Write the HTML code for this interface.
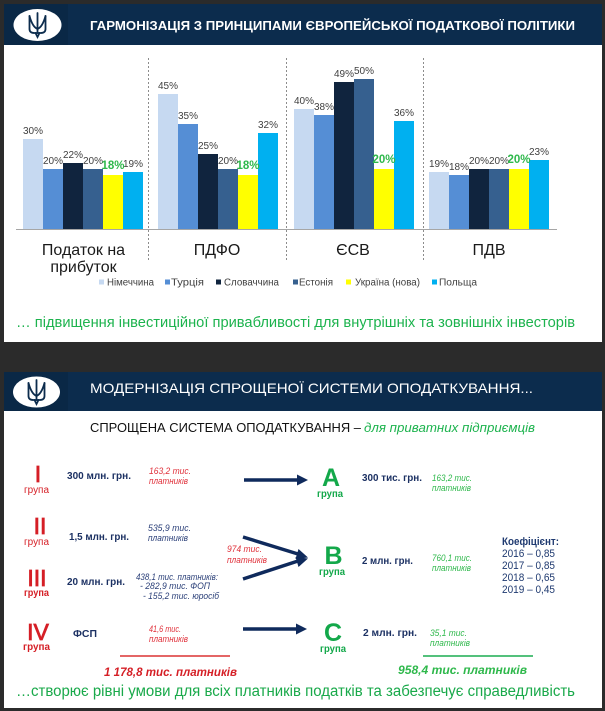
<!DOCTYPE html>
<html><head><meta charset="utf-8">
<style>
html,body{margin:0;padding:0;background:#2b2b2b;}
svg{display:block;}
text{font-family:"Liberation Sans", Arial, sans-serif;}
</style></head>
<body>
<svg width="605" height="711" viewBox="0 0 605 711" xmlns="http://www.w3.org/2000/svg">
<rect width="605" height="711" fill="#2b2b2b"/>

<!-- ============ SLIDE 1 ============ -->
<rect x="4" y="4" width="598" height="41" fill="#0c2c4d"/>
<rect x="4" y="4" width="64" height="41" fill="#0a2846"/>
<rect x="4" y="45" width="598" height="297" fill="#ffffff"/>
<ellipse cx="37.5" cy="25" rx="24" ry="16" fill="#ffffff"/>
<g transform="translate(37.5,25)" fill="none" stroke="#0c2c4d" stroke-width="1.8" stroke-linecap="round">
  <path d="M0,-12 L0,8"/>
  <path d="M-8,-9 L-8,4 Q-8,8 -3,8 L3,8 Q8,8 8,4 L8,-9"/>
  <path d="M-8,-9 Q-5,2 0,4 Q5,2 8,-9"/>
  <path d="M-2,8 L0,12 L2,8"/>
</g>
<text x="90" y="30" font-size="13" font-weight="bold" fill="#ffffff" textLength="485" lengthAdjust="spacingAndGlyphs">ГАРМОНІЗАЦІЯ З ПРИНЦИПАМИ ЄВРОПЕЙСЬКОЇ ПОДАТКОВОЇ ПОЛІТИКИ</text>

<!-- separators -->
<g stroke="#8c8c8c" stroke-width="1" stroke-dasharray="2,2">
  <line x1="148.5" y1="58" x2="148.5" y2="260"/>
  <line x1="286.5" y1="58" x2="286.5" y2="260"/>
  <line x1="423.5" y1="58" x2="423.5" y2="260"/>
</g>

<!-- bars G1 -->
<rect x="23" y="139" width="20" height="90" fill="#c6d9f1"/>
<rect x="43" y="169" width="20" height="60" fill="#558ed5"/>
<rect x="63" y="163" width="20" height="66" fill="#10243e"/>
<rect x="83" y="169" width="20" height="60" fill="#36608f"/>
<rect x="103" y="175" width="20" height="54" fill="#ffff00"/>
<rect x="123" y="172" width="20" height="57" fill="#00b0f0"/>
<!-- bars G2 -->
<rect x="158" y="94" width="20" height="135" fill="#c6d9f1"/>
<rect x="178" y="124" width="20" height="105" fill="#558ed5"/>
<rect x="198" y="154" width="20" height="75" fill="#10243e"/>
<rect x="218" y="169" width="20" height="60" fill="#36608f"/>
<rect x="238" y="175" width="20" height="54" fill="#ffff00"/>
<rect x="258" y="133" width="20" height="96" fill="#00b0f0"/>
<!-- bars G3 -->
<rect x="294" y="109" width="20" height="120" fill="#c6d9f1"/>
<rect x="314" y="115" width="20" height="114" fill="#558ed5"/>
<rect x="334" y="82" width="20" height="147" fill="#10243e"/>
<rect x="354" y="79" width="20" height="150" fill="#36608f"/>
<rect x="374" y="169" width="20" height="60" fill="#ffff00"/>
<rect x="394" y="121" width="20" height="108" fill="#00b0f0"/>
<!-- bars G4 -->
<rect x="429" y="172" width="20" height="57" fill="#c6d9f1"/>
<rect x="449" y="175" width="20" height="54" fill="#558ed5"/>
<rect x="469" y="169" width="20" height="60" fill="#10243e"/>
<rect x="489" y="169" width="20" height="60" fill="#36608f"/>
<rect x="509" y="169" width="20" height="60" fill="#ffff00"/>
<rect x="529" y="160" width="20" height="69" fill="#00b0f0"/>

<line x1="16" y1="229.5" x2="557" y2="229.5" stroke="#a6a6a6" stroke-width="1"/>

<!-- value labels -->
<g font-size="10" fill="#404040" text-anchor="middle">
  <text x="33" y="134">30%</text>
  <text x="53" y="164">20%</text>
  <text x="73" y="158">22%</text>
  <text x="93" y="164">20%</text>
  <text x="133" y="167">19%</text>
  <text x="168" y="89">45%</text>
  <text x="188" y="119">35%</text>
  <text x="208" y="149">25%</text>
  <text x="228" y="164">20%</text>
  <text x="268" y="128">32%</text>
  <text x="304" y="104">40%</text>
  <text x="324" y="110">38%</text>
  <text x="344" y="77">49%</text>
  <text x="364" y="74">50%</text>
  <text x="404" y="116">36%</text>
  <text x="439" y="167">19%</text>
  <text x="459" y="170">18%</text>
  <text x="479" y="164">20%</text>
  <text x="499" y="164">20%</text>
  <text x="539" y="155">23%</text>
</g>
<g font-size="11.5" font-weight="bold" fill="#2eb84b" text-anchor="middle">
  <text x="113" y="169">18%</text>
  <text x="248" y="169">18%</text>
  <text x="384" y="163">20%</text>
  <text x="519" y="163">20%</text>
</g>

<!-- category labels -->
<g font-size="16" fill="#1a1a1a" text-anchor="middle">
  <text x="83.5" y="255">Податок на</text>
  <text x="83.5" y="272">прибуток</text>
  <text x="217" y="255">ПДФО</text>
  <text x="353" y="255">ЄСВ</text>
  <text x="489" y="255">ПДВ</text>
</g>

<!-- legend -->
<rect x="99" y="279.5" width="5" height="5" fill="#c6d9f1"/>
<rect x="165" y="279.5" width="5" height="5" fill="#558ed5"/>
<rect x="216" y="279.5" width="5" height="5" fill="#10243e"/>
<rect x="293" y="279.5" width="5" height="5" fill="#36608f"/>
<rect x="346" y="279.5" width="5" height="5" fill="#ffff00"/>
<rect x="432" y="279.5" width="5" height="5" fill="#00b0f0"/>
<g font-size="10" fill="#404040">
  <text x="107" y="285.5" textLength="47" lengthAdjust="spacingAndGlyphs">Німеччина</text>
  <text x="171" y="285.5" textLength="33" lengthAdjust="spacingAndGlyphs">Турція</text>
  <text x="224" y="285.5" textLength="55" lengthAdjust="spacingAndGlyphs">Словаччина</text>
  <text x="299" y="285.5" textLength="34" lengthAdjust="spacingAndGlyphs">Естонія</text>
  <text x="355" y="285.5" textLength="65" lengthAdjust="spacingAndGlyphs">Україна (нова)</text>
  <text x="439" y="285.5" textLength="38" lengthAdjust="spacingAndGlyphs">Польща</text>
</g>

<text x="16" y="327" font-size="15" fill="#1db34e" textLength="559" lengthAdjust="spacingAndGlyphs">… підвищення інвестиційної привабливості для внутрішніх та зовнішніх інвесторів</text>

<!-- ============ SLIDE 2 ============ -->
<rect x="4" y="372" width="598" height="39" fill="#0c2c4d"/>
<rect x="4" y="372" width="64" height="39" fill="#0a2846"/>
<rect x="4" y="411" width="598" height="297" fill="#ffffff"/>
<ellipse cx="36.5" cy="392" rx="23.5" ry="15.5" fill="#ffffff"/>
<g transform="translate(36.5,392)" fill="none" stroke="#0c2c4d" stroke-width="1.8" stroke-linecap="round">
  <path d="M0,-12 L0,8"/>
  <path d="M-8,-9 L-8,4 Q-8,8 -3,8 L3,8 Q8,8 8,4 L8,-9"/>
  <path d="M-8,-9 Q-5,2 0,4 Q5,2 8,-9"/>
  <path d="M-2,8 L0,12 L2,8"/>
</g>
<text x="90" y="393" font-size="14" fill="#ffffff" textLength="443" lengthAdjust="spacingAndGlyphs">МОДЕРНІЗАЦІЯ СПРОЩЕНОЇ СИСТЕМИ ОПОДАТКУВАННЯ...</text>

<text x="90" y="432" font-size="12.5" fill="#111111" textLength="271" lengthAdjust="spacingAndGlyphs">СПРОЩЕНА СИСТЕМА ОПОДАТКУВАННЯ –</text>
<text x="364" y="432" font-size="12.5" font-style="italic" fill="#1db34e" textLength="171" lengthAdjust="spacingAndGlyphs">для приватних підприємців</text>

<!-- roman numerals -->
<g font-size="23" fill="#d51f26" stroke="#d51f26" stroke-width="0.8" text-anchor="middle">
  <text x="38" y="482">I</text>
  <text x="40" y="534">II</text>
  <text x="37" y="586">III</text>
  <text x="38" y="640">IV</text>
</g>
<g font-size="10" fill="#d51f26">
  <text x="24" y="493" textLength="25" lengthAdjust="spacingAndGlyphs">група</text>
  <text x="24" y="545" textLength="25" lengthAdjust="spacingAndGlyphs">група</text>
  <text x="24" y="596" textLength="25" lengthAdjust="spacingAndGlyphs" font-weight="bold">група</text>
  <text x="23" y="650" textLength="27" lengthAdjust="spacingAndGlyphs" font-weight="bold">група</text>
</g>

<!-- amounts left -->
<g font-size="10.5" font-weight="bold" fill="#1c3163">
  <text x="67" y="479" textLength="64" lengthAdjust="spacingAndGlyphs">300 млн. грн.</text>
  <text x="69" y="540" textLength="60" lengthAdjust="spacingAndGlyphs">1,5 млн. грн.</text>
  <text x="67" y="585" textLength="58" lengthAdjust="spacingAndGlyphs">20 млн. грн.</text>
  <text x="73" y="637" textLength="24" lengthAdjust="spacingAndGlyphs">ФСП</text>
</g>

<!-- small italic notes -->
<g font-size="9" font-style="italic">
  <text x="149" y="474" fill="#e0303a" textLength="42" lengthAdjust="spacingAndGlyphs">163,2  тис.</text>
  <text x="149" y="484" fill="#e0303a" textLength="39" lengthAdjust="spacingAndGlyphs">платників</text>
  <text x="148" y="531" fill="#2a3f78" textLength="43" lengthAdjust="spacingAndGlyphs">535,9  тис.</text>
  <text x="148" y="541" fill="#2a3f78" textLength="40" lengthAdjust="spacingAndGlyphs">платників</text>
  <text x="227" y="552" fill="#e0303a" textLength="35" lengthAdjust="spacingAndGlyphs">974  тис.</text>
  <text x="227" y="563" fill="#e0303a" textLength="40" lengthAdjust="spacingAndGlyphs">платників</text>
  <text x="136" y="580" fill="#2a3f78" textLength="82" lengthAdjust="spacingAndGlyphs">438,1  тис. платників:</text>
  <text x="140" y="589" fill="#2a3f78" textLength="70" lengthAdjust="spacingAndGlyphs">- 282,9  тис. ФОП</text>
  <text x="143" y="599" fill="#2a3f78" textLength="76" lengthAdjust="spacingAndGlyphs">- 155,2  тис. юросіб</text>
  <text x="149" y="632" fill="#e0303a" textLength="32" lengthAdjust="spacingAndGlyphs">41,6  тис.</text>
  <text x="149" y="642" fill="#e0303a" textLength="39" lengthAdjust="spacingAndGlyphs">платників</text>
  <text x="432" y="481" fill="#2eb84b" textLength="40" lengthAdjust="spacingAndGlyphs">163,2 тис.</text>
  <text x="432" y="491" fill="#2eb84b" textLength="39" lengthAdjust="spacingAndGlyphs">платників</text>
  <text x="432" y="561" fill="#2eb84b" textLength="40" lengthAdjust="spacingAndGlyphs">760,1 тис.</text>
  <text x="432" y="571" fill="#2eb84b" textLength="39" lengthAdjust="spacingAndGlyphs">платників</text>
  <text x="430" y="636" fill="#2eb84b" textLength="37" lengthAdjust="spacingAndGlyphs">35,1 тис.</text>
  <text x="430" y="646" fill="#2eb84b" textLength="40" lengthAdjust="spacingAndGlyphs">платників</text>
</g>

<!-- arrows -->
<g stroke="#0f2a5c" stroke-width="3.5" fill="none">
  <line x1="244" y1="480" x2="299" y2="480"/>
  <line x1="243" y1="537" x2="298" y2="554"/>
  <line x1="243" y1="579" x2="298" y2="561"/>
  <line x1="243" y1="629" x2="298" y2="629"/>
</g>
<g fill="#0f2a5c">
  <polygon points="308,480 297,474.5 297,485.5"/>
  <polygon points="308,557.5 298.5,549 295.5,559"/>
  <polygon points="308,558.5 295.5,557 298.5,567"/>
  <polygon points="307,629 296,623.5 296,634.5"/>
</g>

<!-- A B C -->
<g font-size="25" font-weight="bold" fill="#13a84a" text-anchor="middle">
  <text x="331" y="486">A</text>
  <text x="333.5" y="564">B</text>
  <text x="333" y="641">C</text>
</g>
<g font-size="10" font-weight="bold" fill="#13a84a">
  <text x="317" y="497" textLength="26" lengthAdjust="spacingAndGlyphs">група</text>
  <text x="319" y="575" textLength="26" lengthAdjust="spacingAndGlyphs">група</text>
  <text x="320" y="652" textLength="26" lengthAdjust="spacingAndGlyphs">група</text>
</g>

<g font-size="10.5" font-weight="bold" fill="#1c3163">
  <text x="362" y="481" textLength="60" lengthAdjust="spacingAndGlyphs">300 тис. грн.</text>
  <text x="362" y="564" textLength="51" lengthAdjust="spacingAndGlyphs">2 млн. грн.</text>
  <text x="363" y="636" textLength="54" lengthAdjust="spacingAndGlyphs">2 млн. грн.</text>
</g>

<!-- coefficients -->
<text x="502" y="545" font-size="11" font-weight="bold" fill="#1f3a70" textLength="57" lengthAdjust="spacingAndGlyphs">Коефіцієнт:</text>
<g font-size="11" fill="#1f3a70">
  <text x="502" y="557" textLength="53" lengthAdjust="spacingAndGlyphs">2016 – 0,85</text>
  <text x="502" y="569" textLength="53" lengthAdjust="spacingAndGlyphs">2017 – 0,85</text>
  <text x="502" y="581" textLength="53" lengthAdjust="spacingAndGlyphs">2018 – 0,65</text>
  <text x="502" y="593" textLength="53" lengthAdjust="spacingAndGlyphs">2019 – 0,45</text>
</g>

<!-- totals -->
<line x1="120" y1="656" x2="230" y2="656" stroke="#e05050" stroke-width="1.8"/>
<line x1="423" y1="656" x2="533" y2="656" stroke="#3cb86a" stroke-width="1.8"/>
<text x="104" y="676" font-size="12" font-weight="bold" font-style="italic" fill="#d51f26" textLength="133" lengthAdjust="spacingAndGlyphs">1 178,8 тис. платників</text>
<text x="398" y="674" font-size="12" font-weight="bold" font-style="italic" fill="#2eb84b" textLength="129" lengthAdjust="spacingAndGlyphs">958,4  тис. платників</text>

<text x="16" y="696" font-size="15.5" fill="#19a94a" textLength="559" lengthAdjust="spacingAndGlyphs">…створює рівні умови для всіх платників податків та забезпечує справедливість</text>
</svg>
</body></html>
